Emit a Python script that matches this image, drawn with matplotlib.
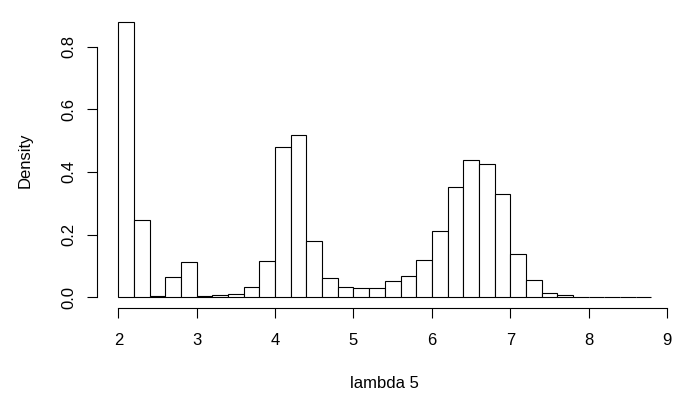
import numpy as np
import matplotlib
matplotlib.use("Agg")
import matplotlib.pyplot as plt

plt.rcParams['font.family'] = ['Liberation Sans', 'DejaVu Sans']

breaks = np.round(np.arange(2.0, 8.8001, 0.2), 1)
density = [0.877, 0.247, 0.005, 0.064, 0.112, 0.004, 0.007, 0.011, 0.032, 0.115,
           0.480, 0.519, 0.181, 0.062, 0.033, 0.031, 0.030, 0.052, 0.067, 0.119,
           0.212, 0.351, 0.438, 0.424, 0.330, 0.137, 0.054, 0.015, 0.006, 0.002,
           0.0006, 0.0005, 0.0005, 0.002]
xticks = [2, 3, 4, 5, 6, 7, 8, 9]
yticks = [0.0, 0.2, 0.4, 0.6, 0.8]
xlabel = "lambda 5"
ylabel = "Density"

W, H = 675, 394
fig = plt.figure(figsize=(W / 100, H / 100), dpi=100)
left_px, right_px, top_px, bot_px = 97.0, 672.7, 11.4, 308.3
ax = fig.add_axes([left_px / W, 1 - bot_px / H, (right_px - left_px) / W, (bot_px - top_px) / H])

lefts = breaks[:-1]
widths = np.diff(breaks)
ax.bar(lefts, density, width=widths, align='edge', facecolor='white',
       edgecolor='black', linewidth=0.8)

xr = breaks[-1] - breaks[0]
ax.set_xlim(breaks[0] - 0.04 * xr, breaks[-1] + 0.04 * xr)
ymax = max(density)
ax.set_ylim(-0.04 * ymax, 1.04 * ymax)

for s in ['top', 'right']:
    ax.spines[s].set_visible(False)
ax.spines['bottom'].set_bounds(xticks[0], xticks[-1])
ax.spines['left'].set_bounds(yticks[0], yticks[-1])
for s in ['bottom', 'left']:
    ax.spines[s].set_linewidth(0.8)

ax.set_xticks(xticks)
ax.set_xticklabels([str(t) for t in xticks])
ax.set_yticks(yticks)
ax.set_yticklabels([f"{t:.1f}" for t in yticks])
ax.tick_params(axis='both', direction='out', length=7.2, width=0.8, labelsize=12, colors='black')
ax.tick_params(axis='x', pad=10.5)
ax.tick_params(axis='y', pad=8)
for lab in ax.get_yticklabels():
    lab.set_rotation(90)
    lab.set_va('center')

fig.text((left_px + right_px) / 2 / W, 1 - 388 / H, xlabel, ha='center', va='baseline', fontsize=12)
fig.text(25.5 / W, 1 - (top_px + bot_px) / 2 / H, ylabel, ha='center', va='center', rotation=90, fontsize=12)

fig.savefig("out.png", dpi=100)
